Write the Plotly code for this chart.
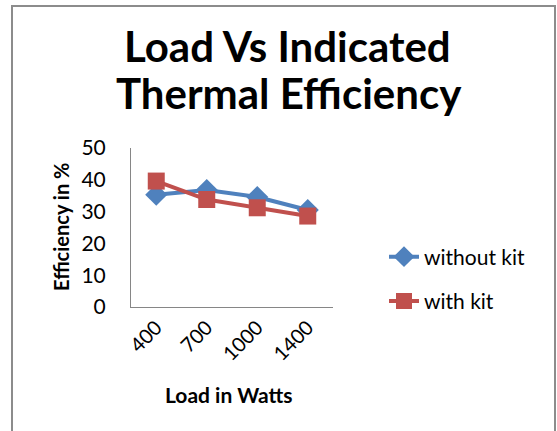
import plotly.graph_objects as go

loads = ["400", "700", "1000", "1400"]
without_kit = [35.3, 36.8, 34.6, 30.5]
with_kit = [39.6, 33.8, 31.2, 28.6]
y_ticks = [0, 10, 20, 30, 40, 50]
title_lines = ["Load Vs Indicated", "Thermal Efficiency"]

BLUE = "#4F81BD"
RED = "#C0504D"
FONT = "Lato"

# plot area in pixels
PL, PR, PT, PB = 131, 333, 148, 307
W, H = 557, 431
PW, PH = PR - PL, PB - PT


def px(x):
    return (x - PL) / PW


def py(y):
    return (PB - y) / PH


fig = go.Figure()
fig.add_trace(go.Scatter(x=loads, y=without_kit, name="without kit", mode="lines+markers",
                         legendgroup="a",
                         line=dict(color=BLUE, width=4),
                         marker=dict(symbol="diamond", size=17, color=BLUE)))
fig.add_trace(go.Scatter(x=loads, y=with_kit, name="with kit", mode="lines+markers",
                         legendgroup="b",
                         line=dict(color=RED, width=4),
                         marker=dict(symbol="square", size=17, color=RED)))

annotations = [
    dict(text="<b>%s</b>" % title_lines[0], x=px(287), y=py(46), xref="paper", yref="paper",
         xanchor="center", yanchor="middle", showarrow=False,
         font=dict(size=42, family=FONT, color="#000")),
    dict(text="<b>%s</b>" % title_lines[1], x=px(289), y=py(93), xref="paper", yref="paper",
         xanchor="center", yanchor="middle", showarrow=False,
         font=dict(size=42, family=FONT, color="#000")),
    dict(text="<b>Efficiency in %</b>", x=px(61), y=py(227), xref="paper", yref="paper",
         xanchor="center", yanchor="middle", showarrow=False, textangle=-90,
         font=dict(size=20, family=FONT, color="#000")),
    dict(text="<b>Load in Watts</b>", x=px(229), y=py(394), xref="paper", yref="paper",
         xanchor="center", yanchor="middle", showarrow=False,
         font=dict(size=21, family=FONT, color="#000")),
]

fig.update_layout(
    width=W, height=H,
    margin=dict(l=PL, r=W - PR, t=PT, b=H - PB),
    paper_bgcolor="white", plot_bgcolor="white",
    font=dict(family=FONT, color="#000000"),
    showlegend=True,
    legend=dict(x=px(384), y=py(279), xanchor="left", yanchor="middle",
                font=dict(size=21, family=FONT), tracegroupgap=14,
                bgcolor="rgba(0,0,0,0)"),
    xaxis=dict(type="category", range=[-0.5, 3.5], showline=True, linecolor="#868686",
               linewidth=1, showgrid=False, zeroline=False, tickangle=-45,
               tickfont=dict(size=20, family=FONT), automargin=False),
    yaxis=dict(range=[0, 50], tickvals=y_ticks, showline=True, linecolor="#868686",
               linewidth=1, showgrid=False, zeroline=False,
               tickfont=dict(size=21, family=FONT), ticklabelstandoff=20, automargin=False),
    annotations=annotations,
    shapes=[dict(type="rect", xref="paper", yref="paper",
                 x0=px(12), x1=px(555), y0=py(445), y1=py(6),
                 line=dict(color="#8c8c8c", width=2), fillcolor="rgba(0,0,0,0)", layer="below")],
)

fig.write_html("out.html", config={"displayModeBar": False},
               post_script="document.body.style.margin='0';")
